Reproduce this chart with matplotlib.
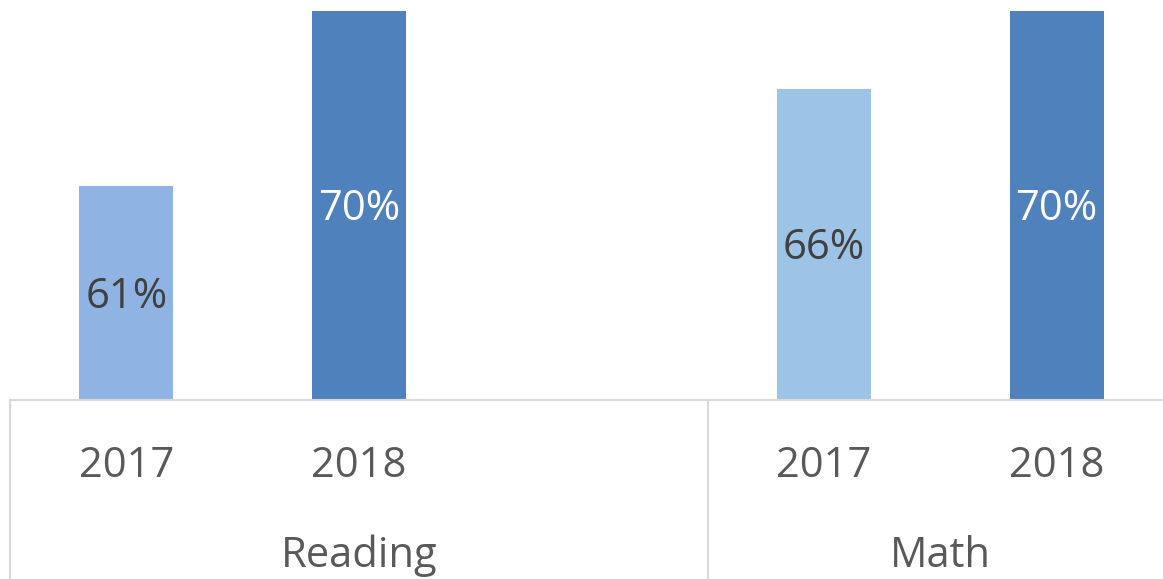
import matplotlib.pyplot as plt
from matplotlib import transforms

# data
subjects = ['Reading', 'Math']
subject_centers = [1.0, 3.5]
years = ['2017', '2018', '2017', '2018']
positions = [0, 1, 3, 4]
values = [61, 70, 66, 70]
bar_colors = ['#8FB4E3', '#4F81BD', '#9DC3E6', '#4F81BD']
label_colors = ['#404040', 'white', '#404040', 'white']
group_edges = [-0.5, 2.5, 4.5]

W, H = 1163, 579
plt.rcParams['font.family'] = ['Open Sans', 'DejaVu Sans']
fs = 30

fig = plt.figure(figsize=(W / 100, H / 100), dpi=100)
ax = fig.add_axes([10 / W, 1 - 400 / H, (1173 - 10) / W, (400 - 11) / H])

ax.bar(positions, values, width=0.404, color=bar_colors)
ax.set_xlim(-0.5, 4.5)
ax.set_ylim(50, 70)
ax.set_xticks([])
ax.set_yticks([])
for s in ['top', 'left', 'right']:
    ax.spines[s].set_visible(False)
ax.spines['bottom'].set_color('#D9D9D9')
ax.spines['bottom'].set_linewidth(1.5)

# value labels in the middle of each bar
for x, v, c in zip(positions, values, label_colors):
    mid = (50 + v) / 2
    ax.annotate(f'{v}%', (x, mid), xytext=(0, -0.357 * fs), textcoords='offset points',
                ha='center', va='baseline', fontsize=fs, color=c)

# category axis: separators, years, subjects
sep = transforms.blended_transform_factory(ax.transData, ax.transAxes)
for e in group_edges:
    ax.plot([e, e], [0, -1], transform=sep, color='#D9D9D9', lw=1.5, clip_on=False)

lab = transforms.blended_transform_factory(ax.transData, fig.transFigure)
for x, y in zip(positions, years):
    ax.text(x, 1 - 477 / H, y, transform=lab, ha='center', va='baseline',
            fontsize=fs, color='#595959')
for x, s in zip(subject_centers, subjects):
    ax.text(x, 1 - 567 / H, s, transform=lab, ha='center', va='baseline',
            fontsize=fs, color='#595959')

fig.savefig('out.png', dpi=100)
